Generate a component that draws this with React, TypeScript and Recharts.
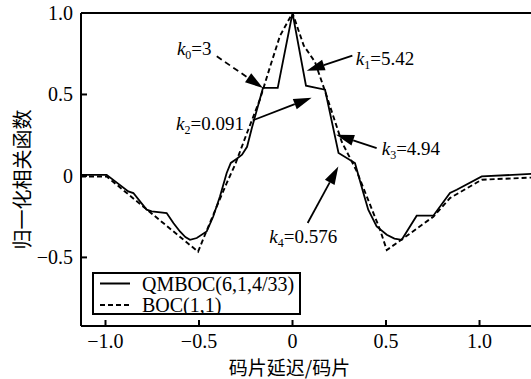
import React from "react";
import {
  LineChart,
  Line,
  XAxis,
  YAxis,
  ReferenceLine,
  ReferenceDot,
  Legend,
} from "recharts";

// QMBOC(6,1,4/33) correlation
const qmbocX = [
  -1.131, -0.994, -0.878, -0.851, -0.78, -0.753, -0.673, -0.637, -0.602, -0.573,
  -0.548, -0.512, -0.459, -0.424, -0.388, -0.352, -0.33, -0.298, -0.27, -0.243,
  -0.217, -0.158, -0.079, 0, 0.072, 0.174, 0.246, 0.334, 0.379, 0.405, 0.45,
  0.504, 0.545, 0.584, 0.664, 0.753, 0.842, 0.878, 1.012, 1.302,
];
const qmbocY = [
  0.007, 0.007, -0.095, -0.105, -0.207, -0.218, -0.228, -0.289, -0.341, -0.375,
  -0.392, -0.381, -0.341, -0.249, -0.126, 0.018, 0.08, 0.105, 0.13, 0.179,
  0.296, 0.54, 0.54, 1.0, 0.554, 0.529, 0.141, 0.079, -0.105, -0.207, -0.31,
  -0.361, -0.385, -0.392, -0.244, -0.244, -0.105, -0.085, -0.003, 0.014,
];

// BOC(1,1) correlation
const bocX = [
  -1.131, -0.994, -0.505, -0.468, -0.405, -0.352, -0.307, -0.243, -0.174, -0.12,
  -0.067, 0, 0.06, 0.12, 0.174, 0.263, 0.343, 0.468, 0.504, 0.584, 0.753, 0.842,
  1.012, 1.302,
];
const bocY = [
  -0.003, -0.003, -0.465, -0.361, -0.187, -0.044, 0.069, 0.265, 0.47, 0.67,
  0.86, 1.0, 0.8, 0.7, 0.52, 0.21, 0.03, -0.33, -0.455, -0.39, -0.25, -0.136,
  -0.023, -0.009,
];

const xTicks = [-1, -0.5, 0, 0.5, 1];
const xTickLabels = ["−1.0", "−0.5", "0", "0.5", "1.0"];
const yTicks = [-0.5, 0, 0.5, 1];
const yTickLabels = ["−0.5", "0", "0.5", "1.0"];
const seriesNames = ["QMBOC(6,1,4/33)", "BOC(1,1)"];

// annotations: k_i = value, label anchor, arrow tail -> head (data coords)
const annoSub = ["0", "1", "2", "3", "4"];
const annoVal = ["3", "5.42", "0.091", "4.94", "0.576"];
const annoLabelX = [-0.618, 0.338, -0.623, 0.477, -0.124];
const annoLabelY = [0.744, 0.683, 0.279, 0.13, -0.412];
const arrowTailX = [-0.405, 0.32, -0.213, 0.45, 0.081];
const arrowTailY = [0.734, 0.738, 0.341, 0.171, -0.289];
const arrowHeadX = [-0.158, 0.076, 0.102, 0.233, 0.245];
const arrowHeadY = [0.54, 0.646, 0.48, 0.253, 0.058];

const qmbocData = qmbocX.map((x, i) => ({ x, y: qmbocY[i] }));
const bocData = bocX.map((x, i) => ({ x, y: bocY[i] }));

const SERIF = '"Liberation Serif", "Times New Roman", serif';
const CJK = '"Noto Sans CJK SC", sans-serif';
const serifStyle = { fontFamily: SERIF };

const YTick = (props: any) => {
  const { x, y, payload } = props;
  const label = yTickLabels[yTicks.indexOf(payload.value)];
  return (
    <g>
      <line x1={x + 8} x2={x + 14} y1={y} y2={y} stroke="#000" strokeWidth={2} />
      <text x={x} y={y + 7} textAnchor="end" fontSize={20} style={serifStyle} fill="#000">
        {label}
      </text>
    </g>
  );
};

const XTick = (props: any) => {
  const { x, y, payload } = props;
  const label = xTickLabels[xTicks.indexOf(payload.value)];
  return (
    <g>
      <line x1={x} x2={x} y1={y} y2={y - 6} stroke="#000" strokeWidth={2} />
      <text x={x} y={y + 22} textAnchor="middle" fontSize={20} style={serifStyle} fill="#000">
        {label}
      </text>
    </g>
  );
};

const makeArrow = (dashed: boolean) => (p: any) => {
  const { x1, y1, x2, y2 } = p;
  const dx = x2 - x1;
  const dy = y2 - y1;
  const len = Math.hypot(dx, dy) || 1;
  const ux = dx / len;
  const uy = dy / len;
  const hl = 18;
  const hw = 5.5;
  const bx = x2 - ux * hl;
  const by = y2 - uy * hl;
  return (
    <g>
      <line
        x1={x1}
        y1={y1}
        x2={bx}
        y2={by}
        stroke="#000"
        strokeWidth={1.8}
        strokeDasharray={dashed ? "6 4" : undefined}
      />
      <polygon
        points={`${x2},${y2} ${bx - uy * hw},${by + ux * hw} ${bx + uy * hw},${by - ux * hw}`}
        fill="#000"
      />
    </g>
  );
};

const makeLabel = (i: number) => (p: any) => (
  <text x={p.cx} y={p.cy} fontSize={19} style={serifStyle} fill="#000">
    <tspan fontStyle="italic">k</tspan>
    <tspan fontSize={12} dy={4}>
      {annoSub[i]}
    </tspan>
    <tspan dy={-4}>={annoVal[i]}</tspan>
  </text>
);

const renderLegend = () => (
  <svg width={209} height={43} style={{ display: "block" }}>
    <rect x={1} y={1} width={207} height={41} fill="#fff" stroke="#000" strokeWidth={2} />
    {seriesNames.map((name, i) => (
      <g key={name}>
        <line
          x1={8}
          x2={38}
          y1={11.5 + i * 21.5}
          y2={11.5 + i * 21.5}
          stroke="#000"
          strokeWidth={2}
          strokeDasharray={i === 1 ? "5 3" : undefined}
        />
        <text x={50} y={18.5 + i * 21.5} fontSize={20} style={serifStyle} fill="#000">
          {name}
        </text>
      </g>
    ))}
  </svg>
);

export default function App() {
  return (
    <div
      style={{
        position: "absolute",
        left: 0,
        top: 0,
        width: 531,
        height: 379,
        overflow: "hidden",
        background: "#fff",
      }}
    >
      <LineChart width={540} height={379} margin={{ top: 13, right: 4, bottom: 0, left: 0 }}>
        <XAxis
          type="number"
          dataKey="x"
          domain={[-1.131, 1.302]}
          allowDataOverflow
          ticks={xTicks}
          interval={0}
          tickSize={0}
          tickMargin={0}
          tickLine={false}
          tick={<XTick />}
          height={53}
          axisLine={{ stroke: "#000", strokeWidth: 2 }}
          label={{
            content: (p: any) => {
              const vb = p.viewBox;
              return (
                <text
                  x={vb.x + vb.width / 2 - 19}
                  y={vb.y + 40}
                  textAnchor="middle"
                  dominantBaseline="central"
                  fontSize={19}
                  style={{ fontFamily: CJK }}
                  fill="#000"
                >
                  码片延迟/码片
                </text>
              );
            },
          }}
        />
        <YAxis
          type="number"
          dataKey="y"
          domain={[-0.921, 1.0]}
          allowDataOverflow
          ticks={yTicks}
          interval={0}
          tickSize={0}
          tickMargin={8}
          tickLine={false}
          tick={<YTick />}
          width={81}
          axisLine={{ stroke: "#000", strokeWidth: 2 }}
          label={{
            content: (p: any) => {
              const vb = p.viewBox;
              const cx = vb.x + 21;
              const cy = vb.y + vb.height / 2 + 10;
              return (
                <text
                  transform={`translate(${cx},${cy}) rotate(-90)`}
                  textAnchor="middle"
                  dominantBaseline="central"
                  fontSize={20}
                  style={{ fontFamily: CJK }}
                  fill="#000"
                >
                  归一化相关函数
                </text>
              );
            },
          }}
        />
        <ReferenceLine y={1} stroke="#000" strokeWidth={2} />
        <Line
          data={bocData}
          dataKey="y"
          name={seriesNames[1]}
          type="linear"
          stroke="#000"
          strokeWidth={1.9}
          strokeDasharray="5 3"
          dot={false}
          isAnimationActive={false}
        />
        <Line
          data={qmbocData}
          dataKey="y"
          name={seriesNames[0]}
          type="linear"
          stroke="#000"
          strokeWidth={1.8}
          dot={false}
          isAnimationActive={false}
        />
        {annoSub.map((s, i) => (
          <ReferenceLine
            key={"a" + s}
            segment={[
              { x: arrowTailX[i], y: arrowTailY[i] },
              { x: arrowHeadX[i], y: arrowHeadY[i] },
            ]}
            shape={makeArrow(i === 0)}
          />
        ))}
        {annoSub.map((s, i) => (
          <ReferenceDot
            key={"l" + s}
            x={annoLabelX[i]}
            y={annoLabelY[i]}
            shape={makeLabel(i)}
          />
        ))}
        <Legend
          layout="horizontal"
          verticalAlign="middle"
          align="center"
          wrapperStyle={{ left: 92, top: 272, width: 209, height: 43 }}
          content={renderLegend}
        />
      </LineChart>
    </div>
  );
}
